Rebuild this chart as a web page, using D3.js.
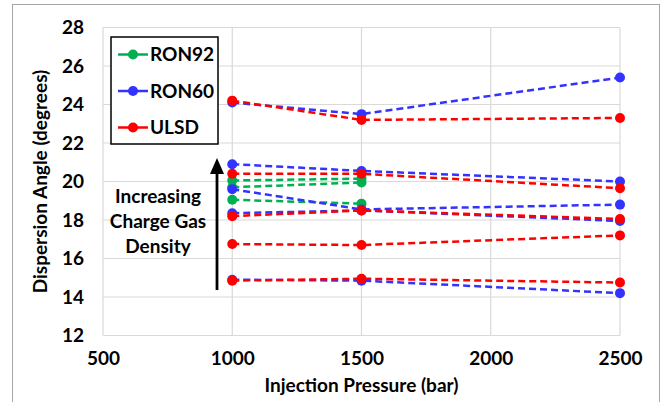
<!DOCTYPE html>
<html>
<head>
<meta charset="utf-8">
<script src="https://cdn.jsdelivr.net/npm/d3@7"></script>
<style>
  html, body { margin: 0; padding: 0; background: #fff; }
  svg { display: block; font-family: Lato, "Open Sans", sans-serif; font-weight: 700; }
</style>
</head>
<body>
<svg id="chart" width="664" height="402"></svg>
<script>
// Injection pressures (bar) at which each condition was measured
const pressures = [1000, 1500, 2500];
const pressuresRon92 = [1000, 1500];

// Dispersion angle (degrees), one row per charge gas density condition
const ron92 = [
  [20.05, 20.15],
  [19.7, 19.95],
  [19.05, 18.85]
];
const ron60 = [
  [24.1, 23.5, 25.4],
  [20.9, 20.55, 20.0],
  [19.6, 18.55, 18.8],
  [18.35, 18.5, 17.95],
  [14.9, 14.85, 14.2]
];
const ulsd = [
  [24.2, 23.2, 23.3],
  [20.4, 20.4, 19.65],
  [18.2, 18.5, 18.05],
  [16.75, 16.7, 17.2],
  [14.85, 14.95, 14.75]
];

const xTicks = [500, 1000, 1500, 2000, 2500];
const yTicks = [12, 14, 16, 18, 20, 22, 24, 26, 28];

const fuels = [
  { name: "RON92", color: "#00B050", xs: pressuresRon92, rows: ron92 },
  { name: "RON60", color: "#3333FF", xs: pressures, rows: ron60 },
  { name: "ULSD", color: "#FF0000", xs: pressures, rows: ulsd }
];

const svg = d3.select("#chart");
const plot = { left: 103, right: 620, top: 27.5, bottom: 335.5 };
const fontSize = 19;

const x = d3.scaleLinear().domain([500, 2500]).range([plot.left, plot.right]);
const y = d3.scaleLinear().domain([12, 28]).range([plot.bottom, plot.top]);

// Outer chart frame
svg.append("rect")
  .attr("x", 12.5).attr("y", 4.5)
  .attr("width", 647).attr("height", 402)
  .attr("fill", "none").attr("stroke", "#a6a6a6").attr("stroke-width", 1);

// Gridlines
const grid = svg.append("g");
grid.selectAll("line.h").data(yTicks).join("line")
  .attr("x1", plot.left).attr("x2", plot.right)
  .attr("y1", d => y(d)).attr("y2", d => y(d))
  .attr("stroke", "#d9d9d9").attr("stroke-width", 1.2);
grid.selectAll("line.v").data(xTicks).join("line")
  .attr("y1", plot.top).attr("y2", plot.bottom)
  .attr("x1", d => x(d)).attr("x2", d => x(d))
  .attr("stroke", "#d9d9d9").attr("stroke-width", 1.2);

// Axes (labels only, lines hidden)
const xAxis = svg.append("g")
  .attr("transform", `translate(0,${plot.bottom})`)
  .call(d3.axisBottom(x).tickValues(xTicks).tickSize(0).tickPadding(16).tickFormat(d3.format("d")));
const yAxis = svg.append("g")
  .attr("transform", `translate(${plot.left},0)`)
  .call(d3.axisLeft(y).tickValues(yTicks).tickSize(0).tickPadding(19).tickFormat(d3.format("d")));
[xAxis, yAxis].forEach(a => {
  a.select(".domain").remove();
  a.selectAll("text")
    .attr("font-family", "Lato, sans-serif")
    .attr("font-weight", 700)
    .attr("font-size", fontSize)
    .attr("fill", "#000");
});

// Axis titles
svg.append("text")
  .attr("x", (plot.left + plot.right) / 2).attr("y", 392)
  .attr("text-anchor", "middle")
  .attr("font-size", fontSize).attr("fill", "#000")
  .text("Injection Pressure (bar)");
svg.append("text")
  .attr("transform", `translate(47,${(plot.top + plot.bottom) / 2}) rotate(-90)`)
  .attr("text-anchor", "middle")
  .attr("font-size", fontSize).attr("fill", "#000")
  .text("Dispersion Angle (degrees)");

// Annotation: arrow and text
svg.append("line")
  .attr("x1", 217).attr("x2", 217)
  .attr("y1", 290).attr("y2", 166)
  .attr("stroke", "#000").attr("stroke-width", 2.8);
svg.append("path")
  .attr("d", "M210,174 L217,158 L224,174 Z")
  .attr("fill", "#000");
const note = svg.append("text")
  .attr("text-anchor", "middle")
  .attr("font-size", fontSize).attr("fill", "#000");
["Increasing", "Charge Gas", "Density"].forEach((t, i) => {
  note.append("tspan").attr("x", 158).attr("y", 203 + i * 25).text(t);
});

// Series lines and markers
const line = d3.line().x(d => x(d[0])).y(d => y(d[1]));
fuels.forEach(f => {
  const g = svg.append("g");
  f.rows.forEach(row => {
    const pts = row.map((v, i) => [f.xs[i], v]);
    g.append("path")
      .attr("d", line(pts))
      .attr("fill", "none")
      .attr("stroke", f.color)
      .attr("stroke-width", 2.5)
      .attr("stroke-dasharray", "7,4");
    g.selectAll(null).data(pts).join("circle")
      .attr("cx", d => x(d[0])).attr("cy", d => y(d[1]))
      .attr("r", 5).attr("fill", f.color);
  });
});

// Legend
const legend = svg.append("g");
legend.append("rect")
  .attr("x", 111).attr("y", 37)
  .attr("width", 107).attr("height", 107)
  .attr("fill", "#fff").attr("stroke", "#000").attr("stroke-width", 1.5);
fuels.forEach((f, i) => {
  const ly = 54.5 + i * 36.5;
  legend.append("line")
    .attr("x1", 118).attr("x2", 148).attr("y1", ly).attr("y2", ly)
    .attr("stroke", f.color).attr("stroke-width", 2.5);
  legend.append("circle").attr("cx", 133).attr("cy", ly).attr("r", 5).attr("fill", f.color);
  legend.append("text")
    .attr("x", 150).attr("y", ly).attr("dy", "0.36em")
    .attr("font-size", 19).attr("fill", "#000")
    .text(f.name);
});
</script>
</body>
</html>
